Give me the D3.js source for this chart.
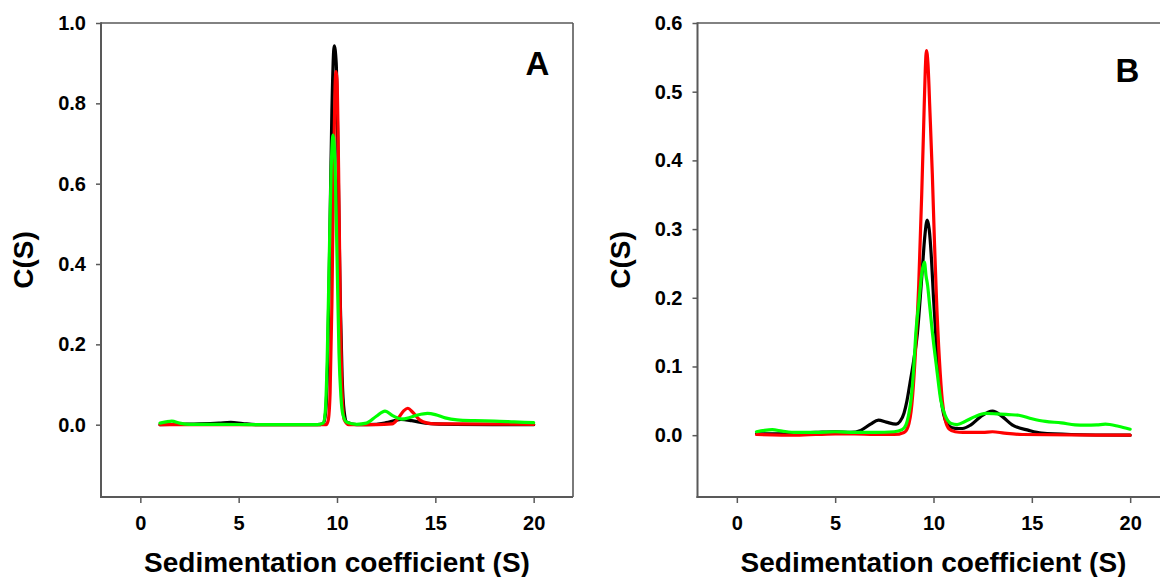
<!DOCTYPE html>
<html>
<head>
<meta charset="utf-8">
<script src="https://cdn.jsdelivr.net/npm/d3@7"></script>
<style>
  html, body { margin: 0; padding: 0; background: #fff; }
  svg { display: block; font-family: "Liberation Sans", Arial, sans-serif; }
</style>
</head>
<body>
<svg id="chart" width="1160" height="577"></svg>
<script>
// Sedimentation coefficient (S) axis ticks, shared by both panels
const xTicks = [0, 5, 10, 15, 20];
const yTicksA = [0.0, 0.2, 0.4, 0.6, 0.8, 1.0];
const yTicksB = [0.0, 0.1, 0.2, 0.3, 0.4, 0.5, 0.6];

// Panel A: c(s) distributions, [s, c(s)]
const aBlack = [
  [1.0, 0.000], [2.0, 0.001], [3.0, 0.002], [4.0, 0.004], [4.6, 0.006], [5.2, 0.003],
  [6.0, 0.000], [7.0, 0.000], [8.0, 0.000], [9.0, 0.000], [9.3, 0.002], [9.42, 0.03],
  [9.52, 0.15], [9.62, 0.42], [9.74, 0.78], [9.86, 0.943], [9.96, 0.90], [10.06, 0.64],
  [10.16, 0.32], [10.26, 0.12], [10.36, 0.035], [10.5, 0.006], [11.0, 0.000],
  [12.0, 0.001], [12.5, 0.005], [13.0, 0.011], [13.25, 0.013], [13.8, 0.010],
  [14.5, 0.004], [15.0, 0.002], [16.0, 0.001], [20.0, 0.000]
];
const aRed = [
  [1.0, 0.000], [3.0, 0.000], [6.0, 0.000], [9.0, 0.000], [9.45, 0.000], [9.55, 0.01],
  [9.65, 0.08], [9.74, 0.30], [9.83, 0.64], [9.9, 0.84], [9.95, 0.879], [10.0, 0.86],
  [10.08, 0.64], [10.17, 0.28], [10.27, 0.07], [10.37, 0.012], [10.6, 0.000],
  [12.0, 0.000], [12.8, 0.002], [13.1, 0.015], [13.4, 0.035], [13.6, 0.041],
  [13.85, 0.031], [14.2, 0.012], [14.6, 0.004], [15.0, 0.002], [20.0, 0.001]
];
const aGreen = [
  [1.0, 0.004], [1.3, 0.007], [1.6, 0.009], [2.0, 0.004], [2.5, 0.001], [4.0, 0.001],
  [6.0, 0.000], [9.0, 0.000], [9.3, 0.004], [9.4, 0.03], [9.5, 0.16], [9.6, 0.40],
  [9.7, 0.63], [9.8, 0.721], [9.9, 0.65], [10.0, 0.42], [10.1, 0.18], [10.2, 0.07],
  [10.3, 0.025], [10.5, 0.006], [11.0, 0.001], [11.5, 0.004], [12.0, 0.021],
  [12.44, 0.034], [12.85, 0.022], [13.3, 0.014], [13.7, 0.018], [14.1, 0.024],
  [14.6, 0.028], [15.0, 0.025], [15.5, 0.017], [16.1, 0.012], [17.0, 0.010],
  [18.0, 0.009], [19.0, 0.007], [20.0, 0.005]
];

// Panel B: c(s) distributions, [s, c(s)]
const bBlack = [
  [1.0, 0.002], [2.0, 0.002], [3.0, 0.003], [4.0, 0.004], [5.0, 0.005], [5.8, 0.004],
  [6.3, 0.007], [6.8, 0.016], [7.2, 0.022], [7.6, 0.019], [8.1, 0.016], [8.3, 0.020],
  [8.5, 0.032], [8.65, 0.05], [8.8, 0.075], [9.0, 0.11], [9.18, 0.148], [9.3, 0.19],
  [9.44, 0.245], [9.56, 0.29], [9.68, 0.313], [9.78, 0.30], [9.9, 0.255], [10.0, 0.20],
  [10.15, 0.13], [10.3, 0.075], [10.45, 0.04], [10.6, 0.022], [10.8, 0.013],
  [11.1, 0.010], [11.47, 0.0097], [11.9, 0.015], [12.4, 0.027], [13.0, 0.035],
  [13.5, 0.027], [14.0, 0.015], [14.85, 0.007], [15.5, 0.003], [17.0, 0.001], [20.0, 0.000]
];
const bRed = [
  [1.0, 0.001], [3.0, 0.000], [5.0, 0.002], [6.0, 0.002], [7.0, 0.001], [8.0, 0.001],
  [8.5, 0.004], [8.7, 0.012], [8.9, 0.045], [9.1, 0.13], [9.25, 0.22], [9.4, 0.35],
  [9.5, 0.45], [9.58, 0.53], [9.64, 0.56], [9.72, 0.54], [9.82, 0.47], [9.94, 0.38],
  [10.05, 0.28], [10.15, 0.20], [10.3, 0.11], [10.45, 0.05], [10.6, 0.022],
  [10.8, 0.009], [11.1, 0.005], [11.5, 0.004], [12.5, 0.004], [13.0, 0.005],
  [13.6, 0.003], [14.5, 0.001], [20.0, 0.000]
];
const bGreen = [
  [1.0, 0.005], [1.4, 0.007], [1.8, 0.008], [2.3, 0.006], [3.0, 0.004], [4.0, 0.004],
  [5.0, 0.005], [6.0, 0.004], [7.0, 0.004], [8.0, 0.005], [8.4, 0.008], [8.6, 0.015],
  [8.75, 0.032], [8.85, 0.05], [9.0, 0.10], [9.1, 0.148], [9.27, 0.197], [9.4, 0.235],
  [9.54, 0.252], [9.62, 0.232], [9.7, 0.218], [9.8, 0.19], [9.95, 0.148], [10.15, 0.10],
  [10.37, 0.051], [10.62, 0.027], [10.9, 0.017], [11.2, 0.0155], [11.6, 0.020],
  [12.1, 0.027], [12.65, 0.0316], [13.2, 0.031], [13.8, 0.030], [14.34, 0.029],
  [15.0, 0.024], [15.69, 0.020], [16.5, 0.018], [17.2, 0.015], [17.72, 0.0146],
  [18.3, 0.015], [18.74, 0.016], [19.4, 0.013], [20.0, 0.0087]
];

const seriesColors = ["#000000", "#ff0000", "#00ff00"];

const panels = [
  { letter: "A", left: 101, top: 23, width: 472, height: 474,
    yDomain: [-0.18, 1.0], yTicks: yTicksA, series: [aBlack, aRed, aGreen],
    letterX: 537.5, letterY: 75, yLabelX: 33 },
  { letter: "B", left: 697.5, top: 23, width: 472, height: 474,
    yDomain: [-0.09, 0.6], yTicks: yTicksB, series: [bBlack, bRed, bGreen],
    letterX: 1127.5, letterY: 82, yLabelX: 630 }
];

const svg = d3.select("#chart");
const axisColor = "#595959";
const fontFamily = "Liberation Sans, Arial, sans-serif";

panels.forEach(p => {
  const x = d3.scaleLinear().domain([-2, 22]).range([p.left, p.left + p.width]);
  const y = d3.scaleLinear().domain(p.yDomain).range([p.top + p.height, p.top]);
  const g = svg.append("g");
  const x0 = p.left, x1 = p.left + p.width, y0 = p.top, y1 = p.top + p.height;

  // frame: top and right edges
  g.append("line").attr("x1", x0).attr("x2", x1).attr("y1", y0).attr("y2", y0)
    .attr("stroke", axisColor).attr("stroke-width", 1.6);
  g.append("line").attr("x1", x1).attr("x2", x1).attr("y1", y0).attr("y2", y1)
    .attr("stroke", axisColor).attr("stroke-width", 1.6);

  // left axis
  const yAxis = d3.axisLeft(y).tickValues(p.yTicks).tickFormat(d3.format(".1f"))
    .tickSize(5).tickPadding(10);
  const ya = g.append("g").attr("transform", `translate(${x0},0)`).call(yAxis);
  ya.select(".domain").remove();
  ya.selectAll(".tick line").attr("stroke", axisColor).attr("stroke-width", 1.5);
  ya.selectAll(".tick text").attr("fill", "#000").attr("font-size", 20)
    .attr("font-weight", "bold").attr("font-family", fontFamily);
  g.append("line").attr("x1", x0).attr("x2", x0).attr("y1", y0 - 0.8).attr("y2", y1 + 1)
    .attr("stroke", axisColor).attr("stroke-width", 2);

  // bottom axis
  const xAxis = d3.axisBottom(x).tickValues(xTicks).tickFormat(d3.format("d"))
    .tickSize(6).tickPadding(13);
  const xa = g.append("g").attr("transform", `translate(0,${y1})`).call(xAxis);
  xa.select(".domain").remove();
  xa.selectAll(".tick line").attr("stroke", axisColor).attr("stroke-width", 1.5);
  xa.selectAll(".tick text").attr("fill", "#000").attr("font-size", 20)
    .attr("font-weight", "bold").attr("font-family", fontFamily);
  g.append("line").attr("x1", x0 - 1).attr("x2", x1).attr("y1", y1).attr("y2", y1)
    .attr("stroke", axisColor).attr("stroke-width", 2);

  // axis titles
  g.append("text").attr("x", (x0 + x1) / 2).attr("y", 572)
    .attr("text-anchor", "middle").attr("font-size", 28).attr("font-weight", "bold")
    .attr("font-family", fontFamily)
    .text("Sedimentation coefficient (S)");
  g.append("text")
    .attr("transform", `translate(${p.yLabelX},${(y0 + y1) / 2}) rotate(-90)`)
    .attr("text-anchor", "middle").attr("font-size", 28).attr("font-weight", "bold")
    .attr("font-family", fontFamily)
    .text("C(S)");

  // panel letter
  g.append("text").attr("x", p.letterX).attr("y", p.letterY)
    .attr("text-anchor", "middle").attr("font-size", 33).attr("font-weight", "bold")
    .attr("font-family", fontFamily)
    .text(p.letter);

  // distribution curves
  const line = d3.line().x(d => x(d[0])).y(d => y(d[1])).curve(d3.curveMonotoneX);
  p.series.forEach((s, i) => {
    g.append("path").datum(s).attr("d", line)
      .attr("fill", "none").attr("stroke", seriesColors[i])
      .attr("stroke-width", 3.2).attr("stroke-linejoin", "round").attr("stroke-linecap", "round");
  });
});
</script>
</body>
</html>
